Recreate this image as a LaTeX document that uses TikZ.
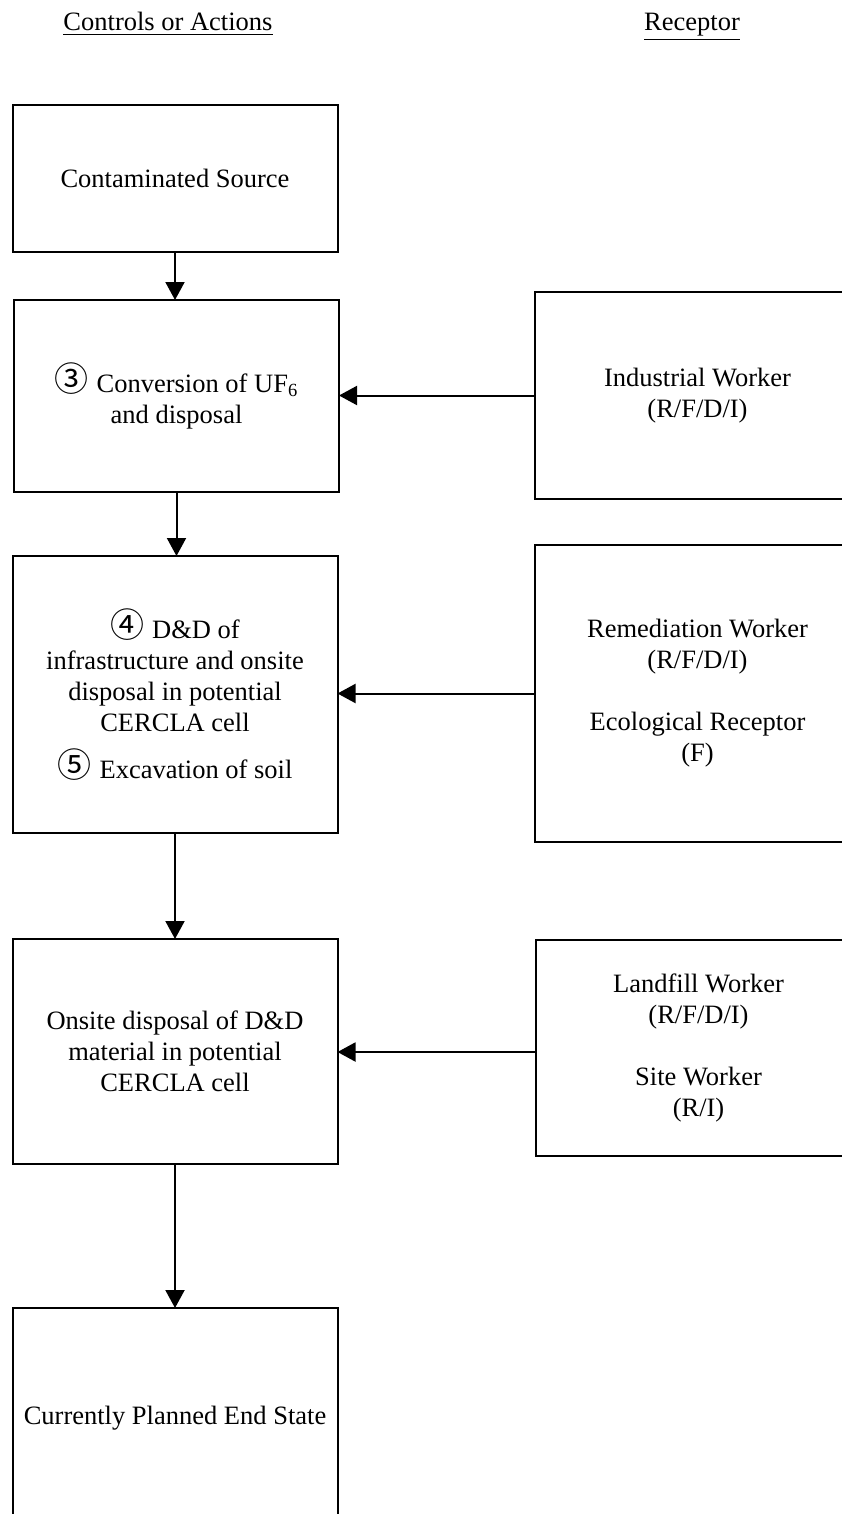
\documentclass[tikz,border=0pt]{standalone}
\usepackage{fontspec}
\setmainfont{Liberation Serif}
\newfontfamily\circfont{Noto Sans CJK SC}
\usetikzlibrary{arrows.meta}
\newcommand{\circnum}[1]{\raisebox{0.5pt}{\circfont\fontsize{17}{17}\selectfont #1}\hspace{0.3em}}
\begin{document}
\begin{tikzpicture}[x=0.5pt,y=-0.5pt,
  every node/.style={font=\fontsize{13.25}{15.5}\selectfont},
  box/.style={draw, line width=1pt, inner sep=0pt, outer sep=0pt, align=center},
  flow/.style={-{Triangle[width=9.5pt,length=9pt]}, line width=1pt}]
\useasboundingbox (0,0) rectangle (841,1514);

% column headings
\node[anchor=base] (hctl) at (168,31) {\underline{Controls or Actions}};
\node[anchor=base] (hrec) at (692,31) {\underline{Receptor}};

% controls / actions column
\node[box, minimum width=162.5pt, minimum height=73.5pt] (src) at (175,178.5)
  {Contaminated Source};
\node[box, minimum width=162.5pt, minimum height=96pt] (conv) at (176.5,396)
  {\circnum{③}Conversion of UF\textsubscript{6}\\and disposal};
\node[box, minimum width=162.5pt, minimum height=138.5pt] (dd) at (175,694.5)
  {\circnum{④}D\&D of\\infrastructure and onsite\\disposal in potential\\CERCLA cell\\[8pt]\circnum{⑤}Excavation of soil};
\node[box, minimum width=162.5pt, minimum height=112.5pt] (land) at (175,1051.5)
  {Onsite disposal of D\&D\\material in potential\\CERCLA cell};
\node[box, minimum width=162.5pt, minimum height=110pt] (endst) at (175,1418)
  {Currently Planned End State};

% receptor column
\node[box, minimum width=162.5pt, minimum height=103.5pt] (indw) at (697.5,395.5)
  {Industrial Worker\\(R/F/D/I)};
\node[box, minimum width=162.5pt, minimum height=148.5pt] (remw) at (697.5,693.5)
  {Remediation Worker\\(R/F/D/I)\\[15.5pt]Ecological Receptor\\(F)};
\node[box, minimum width=162.5pt, minimum height=108pt] (lfw) at (698.5,1048)
  {Landfill Worker\\(R/F/D/I)\\[15.5pt]Site Worker\\(R/I)};

% connectors
\draw[flow] (src.south) -- (conv.north -| src.south);
\draw[flow] (conv.south) -- (dd.north -| conv.south);
\draw[flow] (dd.south) -- (land.north);
\draw[flow] (land.south) -- (endst.north);
\draw[flow] (indw.west) -- (indw.west -| conv.east);
\draw[flow] (remw.west) -- (remw.west -| dd.east);
\draw[flow] ([yshift=-2pt]lfw.west) -- ([yshift=-2pt]lfw.west -| land.east);
\end{tikzpicture}
\end{document}
